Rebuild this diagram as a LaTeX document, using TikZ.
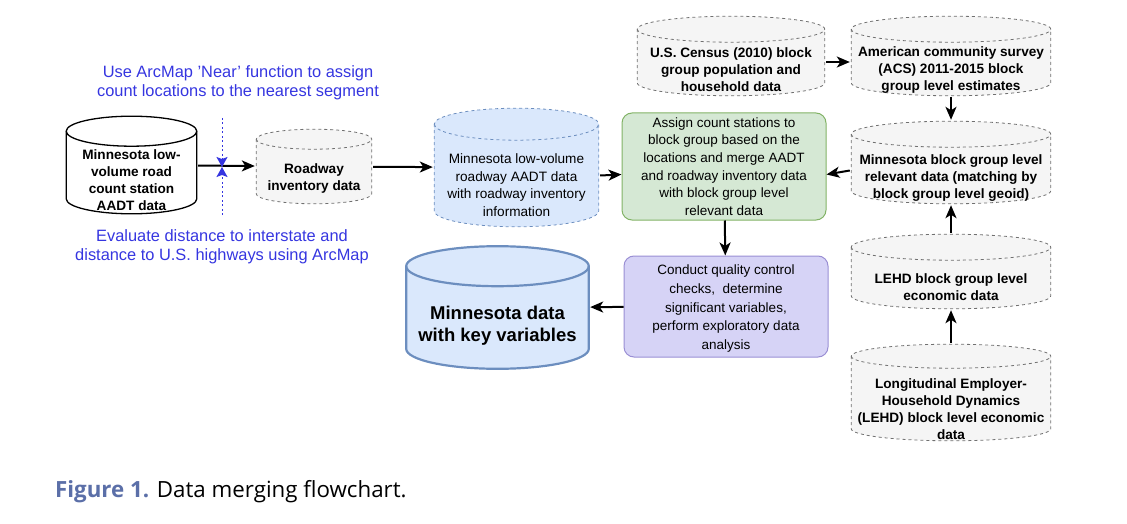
\documentclass[tikz,border=0pt]{standalone}
\usepackage{fontspec}
\setmainfont{Liberation Sans}
\newfontfamily\capfont{Open Sans}
\usetikzlibrary{arrows.meta}

\definecolor{dbgrey}{HTML}{F5F5F5}
\definecolor{dbline}{HTML}{707070}
\definecolor{dbblue}{HTML}{DAE8FC}
\definecolor{blueline}{HTML}{6C8EBF}
\definecolor{stepgreen}{HTML}{D5E8D4}
\definecolor{greenline}{HTML}{82B366}
\definecolor{steppurple}{HTML}{D6D3F6}
\definecolor{purpleline}{HTML}{9A8FD4}
\definecolor{notecolor}{HTML}{3535E0}
\definecolor{figcolor}{HTML}{5B6FA8}

% pushes the text of a cylinder down, below its lid
\newcommand\dbdrop[1]{\rule{0pt}{\dimexpr10pt+#1pt\relax}}

\tikzset{
  lid/.initial=13pt,
  db look/.style={},
  db/.style={rectangle, inner sep=0pt, align=center,
    font=\bfseries\fontsize{13.6}{17}\selectfont,
    path picture={
      \pgfmathsetlengthmacro\dbry{\pgfkeysvalueof{/tikz/lid}}
      \pgfmathsetlengthmacro\dbrx{\pgfkeysvalueof{/pgf/minimum width}/2-1.2pt}
      \path[db look]
        ([xshift=1.2pt, yshift=-\dbry-1.2pt]path picture bounding box.north west)
        -- ([xshift=1.2pt, yshift=\dbry+1.2pt]path picture bounding box.south west)
        arc[start angle=180, end angle=360, x radius=\dbrx, y radius=\dbry]
        -- ([xshift=-1.2pt, yshift=-\dbry-1.2pt]path picture bounding box.north east)
        arc[start angle=0, end angle=180, x radius=\dbrx, y radius=\dbry]
        -- cycle;
      \path[db look, fill=none]
        ([xshift=1.2pt, yshift=-\dbry-1.2pt]path picture bounding box.north west)
        arc[start angle=180, end angle=360, x radius=\dbrx, y radius=\dbry];
    }},
  grey db/.style={db, db look/.style={dashed, draw=dbline, fill=dbgrey, line width=0.8pt}},
  process/.style={rectangle, rounded corners=10pt, align=center, inner sep=2pt,
    minimum width=204pt, line width=1pt, font=\fontsize{13.5}{17.6}\selectfont},
  note/.style={align=center, text=notecolor, font=\fontsize{16.4}{18.5}\selectfont},
  flow/.style={line width=2pt, -{Stealth[length=13pt, width=11pt, inset=3.5pt]}},
  mark line/.style={draw=notecolor, line width=1pt, dash pattern=on 2pt off 2.5pt,
    -{Stealth[length=10pt, width=11pt, inset=2pt]}},
}

\begin{document}
\begin{tikzpicture}[x=1pt, y=-1pt]
\useasboundingbox (0,0) rectangle (1127,524);

% data sources
\node (count) [db, db look/.style={draw=black, fill=white, line width=1.3pt},
  minimum width=133pt, minimum height=100pt, lid=15pt]
  at (131.5,165) {\dbdrop{31}Minnesota low-\\volume road\\count station\\AADT data};
\node (road) [grey db, minimum width=118pt, minimum height=77pt, lid=10pt]
  at (314,166.5) {\dbdrop{24}Roadway\\inventory data};
\node (merged) [db, db look/.style={dashed, draw=blueline, fill=dbblue, line width=0.8pt},
  font=\fontsize{13.6}{17.8}\selectfont, minimum width=167pt, minimum height=121pt, lid=16pt]
  at (516.5,167.5) {\dbdrop{35}Minnesota low-volume\\roadway AADT data\\with roadway inventory\\information};

\node (census) [grey db, minimum width=190pt, minimum height=82pt]
  at (731,56) {\dbdrop{27}U.S. Census (2010) block\\group population and\\household data};
\node (acs) [grey db, minimum width=202pt, minimum height=82pt]
  at (951,56) {\dbdrop{27}American community survey\\(ACS) 2011-2015 block\\group level estimates};
\node (mnbg) [grey db, minimum width=202pt, minimum height=85pt]
  at (951,162.5) {\dbdrop{31}Minnesota block group level\\relevant data (matching by\\block group level geoid)};
\node (lehdbg) [grey db, minimum width=202pt, minimum height=77pt]
  at (951,271.5) {\dbdrop{32}LEHD block group level\\economic data};
\node (lehd) [grey db, minimum width=202pt, minimum height=99pt, lid=12pt]
  at (951,392.5) {\dbdrop{33}Longitudinal Employer-\\Household Dynamics\\(LEHD) block level economic\\data};

% processing steps
\node (assign) [process, draw=greenline, fill=stepgreen, minimum height=107pt]
  at (724,166.5) {Assign count stations to\\block group based on the\\locations and merge AADT\\and roadway inventory data\\with block group level\\relevant data};
\node (qc) [process, draw=purpleline, fill=steppurple, minimum height=101pt, font=\fontsize{13.5}{18.8}\selectfont]
  at (726,306.5) {\rule{0pt}{14pt}Conduct quality control\\checks,~ determine\\significant variables,\\perform exploratory data\\analysis};
\node (keydata) [db, db look/.style={draw=blueline, fill=dbblue, line width=2.2pt},
  font=\bfseries\fontsize{18.5}{22}\selectfont, minimum width=185pt, minimum height=125pt, lid=20pt]
  at (497.5,307.5) {\dbdrop{40}Minnesota data\\with key variables};

% ArcMap notes
\node (nearnote) [note] at (238,83) {Use ArcMap 'Near' function to assign\\count locations to the nearest segment};
\node (distnote) [note] at (222,247) {Evaluate distance to interstate and\\distance to U.S. highways using ArcMap};
\coordinate (neartop) at (222,118);
\coordinate (distbot) at (222,215);
\coordinate (cut) at (222,167);

% caption
\node (caption) [anchor=west, inner sep=0pt, font=\capfont\fontsize{22.3}{26}\selectfont] at (55,492)
  {\textcolor{figcolor}{\bfseries Figure 1.} Data merging flowchart.};

\draw[flow] (count) -- (road);
\draw[flow] (road) -- (merged);
\draw[flow] ([yshift=-8pt]merged.east) -- ([yshift=-8pt]assign.west);
\draw[flow] ([yshift=-6pt]census.east) -- ([yshift=-6pt]acs.west);
\draw[flow] (acs.south) -- (mnbg.north);
\draw[flow] ([yshift=-8pt]mnbg.west) -- ([yshift=-8pt]assign.east);
\draw[flow] (lehdbg.north) -- (mnbg.south);
\draw[flow] (lehd.north) -- (lehdbg.south);
\draw[flow] (assign) -- (qc);
\draw[flow] (qc) -- (keydata);

\draw[mark line] (neartop) -- (cut);
\draw[mark line] (distbot) -- (cut);
\end{tikzpicture}
\end{document}
